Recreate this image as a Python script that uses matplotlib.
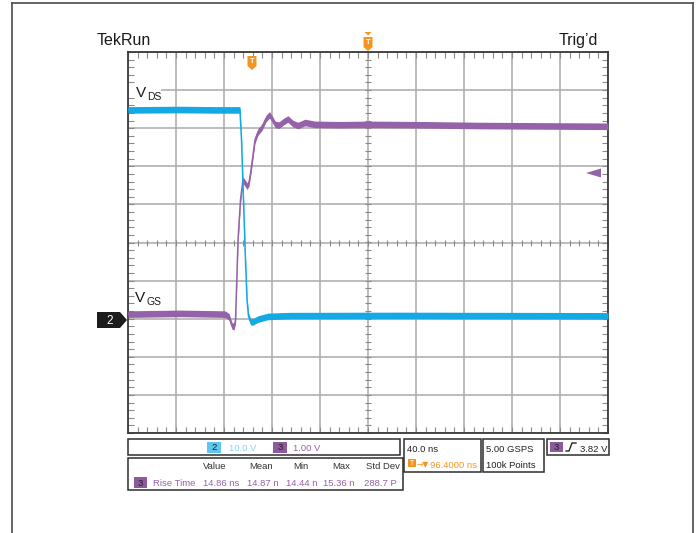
import matplotlib
matplotlib.use("Agg")
import matplotlib.pyplot as plt
import matplotlib.transforms as mtransforms
from matplotlib.patches import Polygon, Rectangle
from matplotlib.lines import Line2D
from matplotlib.ticker import MultipleLocator
import numpy as np

plt.rcParams["font.family"] = ["Liberation Sans", "DejaVu Sans"]

# ---- acquisition settings ----
ns_per_div = 40.0
trigger_delay_ns = 96.4          # centre of screen relative to the trigger
ch2_volts_per_div = 10.0
ch3_volts_per_div = 1.0
ch_offset_div = -2.0             # ground of both channels sits 2 div below centre
trigger_level_v = 3.82

# ---- channel 2: V_DS (time in ns from trigger, volts) ----
t_vds = [-103.6, -60.0, -30.0, -10.3, -9.0, -7.35, -5.7, -4.4, -3.2, -1.5,
         0.6, 4.7, 13.1, 31.4, 120.0, 210.0, 296.4]
v_vds = [54.8, 54.9, 54.8, 54.8, 46.9, 31.2, 15.4, 4.9, 0.7, -0.75,
         -0.85, -0.1, 0.6, 0.8, 0.85, 0.8, 0.75]

# ---- channel 3: V_GS (time in ns from trigger, volts) ----
t_vgs = [-103.6, -60.0, -22.8, -19.4, -16.9, -15.3, -14.0, -13.2, -11.9, -9.85,
         -7.8, -6.1, -4.4, -2.8, -1.1, 0.6, 2.2, 4.7, 8.1, 11.4, 14.3, 16.4,
         19.0, 22.2, 26.4, 29.7, 33.9, 38.1, 43.9, 52.2, 73.1, 96.4, 139.7,
         189.7, 239.7, 296.4]
v_vgs = [0.12, 0.14, 0.12, 0.05, -0.19, -0.21, -0.05, 0.75, 2.07, 3.12,
         3.64, 3.56, 3.48, 3.56, 3.90, 4.30, 4.69, 4.90, 5.03, 5.25, 5.35, 5.25,
         5.10, 5.08, 5.18, 5.24, 5.12, 5.07, 5.15, 5.10, 5.09, 5.10, 5.09,
         5.07, 5.06, 5.05]

# ---- measurement readout ----
meas_headers = ["Value", "Mean", "Min", "Max", "Std Dev"]
meas_values = ["14.86 ns", "14.87 n", "14.44 n", "15.36 n", "288.7 P"]

BLUE = "#12a9e4"
PURPLE = "#9561a8"
ORANGE = "#f7941d"
GRID = "#a9a9a9"
TICK = "#8a8a8a"
FRAME = "#3a3a3a"

W, H = 700, 533
fig = plt.figure(figsize=(W / 100, H / 100), dpi=100)
# pixel coordinates with y pointing down
px = mtransforms.Affine2D().scale(1 / W, -1 / H).translate(0, 1) + fig.transFigure

L, R, T, B = 128, 608, 52, 433
rect = [L / W, 1 - B / H, (R - L) / W, (B - T) / H]

# ---- graticule ----
ax_g = fig.add_axes(rect)
ax_g.set_xlim(-5, 5)
ax_g.set_ylim(-5, 5)
ax_g.set_xticks(np.arange(-5, 6))
ax_g.set_yticks(np.arange(-5, 6))
ax_g.xaxis.set_minor_locator(MultipleLocator(0.2))
ax_g.yaxis.set_minor_locator(MultipleLocator(0.2))
ax_g.grid(True, which="major", color=GRID, lw=1.1)
ax_g.tick_params(which="both", direction="in", length=4, width=0.8, color=TICK,
                 top=True, right=True, labelbottom=False, labelleft=False)
for s in ax_g.spines.values():
    s.set_color(FRAME)
    s.set_linewidth(1.3)
marks = np.arange(-5, 5.001, 0.2)
ax_g.plot(marks, np.zeros_like(marks), ls="none", marker="|", ms=5, mew=0.8, color=TICK)
ax_g.plot(np.zeros_like(marks), marks, ls="none", marker="_", ms=5, mew=0.8, color=TICK)

# ---- traces ----
t0 = trigger_delay_ns - 5 * ns_per_div
t1 = trigger_delay_ns + 5 * ns_per_div
ax_b = fig.add_axes(rect, label="ch2")
ax_b.set_xlim(t0, t1)
ax_b.set_ylim((-5 - ch_offset_div) * ch2_volts_per_div, (5 - ch_offset_div) * ch2_volts_per_div)
ax_b.set_axis_off()
ax_p = ax_b.twinx()
ax_p.set_ylim((-5 - ch_offset_div) * ch3_volts_per_div, (5 - ch_offset_div) * ch3_volts_per_div)
ax_p.set_axis_off()
ax_b.set_zorder(2)
ax_p.set_zorder(1)

half_px = 3.3
px_per_div = (B - T) / 10
tv = np.array(t_vds); vv = np.array(v_vds)
hb = half_px / px_per_div * ch2_volts_per_div
ax_b.fill_between(tv, vv - hb, vv + hb, color=BLUE, lw=0)
ax_b.plot(tv, vv, color=BLUE, lw=1.1)
tg = np.array(t_vgs); vg = np.array(v_vgs)
hp = half_px / px_per_div * ch3_volts_per_div
ax_p.fill_between(tg, vg - hp, vg + hp, color=PURPLE, lw=0)
ax_p.plot(tg, vg, color=PURPLE, lw=1.1)

# ---- outer frame ----
for xs, ys in [([12, 12], [3, 533]), ([12, 693], [3, 3]), ([693, 693], [3, 533])]:
    fig.add_artist(Line2D(xs, ys, transform=px, color="#4a4a4a", lw=1.2))

# ---- header text ----
fig.text(97, 45, "TekRun", transform=px, fontsize=11.5, va="baseline", color="#1a1a1a")
fig.text(598, 45, "Trig\u2019d", transform=px, fontsize=11.5, va="baseline", ha="right", color="#1a1a1a")

# ---- trace labels ----
fig.add_artist(Rectangle((129, 84), 32, 14, transform=px, facecolor="white", edgecolor="none", zorder=1))
fig.text(136, 97, "V", transform=px, fontsize=11, va="baseline", color="#1a1a1a", zorder=2)
fig.text(147.5, 100, "DS", transform=px, fontsize=7.5, va="baseline", color="#1a1a1a", zorder=2)
fig.text(135, 302, "V", transform=px, fontsize=11, va="baseline", color="#1a1a1a", zorder=2)
fig.text(146.5, 305, "GS", transform=px, fontsize=7.5, va="baseline", color="#1a1a1a", zorder=2)

# ---- channel 2 ground marker ----
fig.add_artist(Polygon([(97, 312), (120, 312), (127, 320), (120, 328), (97, 328)],
                       closed=True, transform=px, facecolor="#1c1c1c", edgecolor="none"))
fig.text(110, 320.5, "2", transform=px, fontsize=8.5, color="white", ha="center", va="center")

# ---- trigger level arrow (channel 3) ----
fig.add_artist(Polygon([(586, 173), (601, 168.5), (601, 177.5)], closed=True,
                       transform=px, facecolor=PURPLE, edgecolor="none"))

# ---- trigger / expansion markers ----
def t_marker(x, ytop, with_cap):
    if with_cap:
        fig.add_artist(Polygon([(x - 3.5, ytop - 5), (x + 3.5, ytop - 5), (x, ytop - 1.5)],
                               closed=True, transform=px, facecolor=ORANGE, edgecolor="none"))
    fig.add_artist(Polygon([(x - 4.5, ytop), (x + 4.5, ytop), (x + 4.5, ytop + 10),
                            (x, ytop + 14), (x - 4.5, ytop + 10)], closed=True,
                           transform=px, facecolor=ORANGE, edgecolor="none"))
    fig.text(x, ytop + 5.5, "T", transform=px, fontsize=5.5, color="white",
             ha="center", va="center", fontweight="bold")

t_marker(368, 37, True)
t_marker(252, 56, False)

# ---- readout boxes ----
def box(x0, y0, x1, y1):
    fig.add_artist(Rectangle((x0, y0), x1 - x0, y1 - y0, transform=px,
                             facecolor="white", edgecolor="#2e2e2e", lw=1.1))

def chip(x0, y0, x1, y1, color, label):
    fig.add_artist(Rectangle((x0, y0), x1 - x0, y1 - y0, transform=px,
                             facecolor=color, edgecolor="none"))
    fig.text((x0 + x1) / 2, (y0 + y1) / 2 + 0.5, label, transform=px, fontsize=6.8,
             color="#222222", ha="center", va="center")

FS = 6.8
box(128, 439, 400, 455)
chip(207, 442, 221, 453, "#5fc7ef", "2")
fig.text(229, 451, "10.0 V", transform=px, fontsize=FS, color="#86d3f2", va="baseline")
chip(273, 442, 287, 453, "#8d5a9e", "3")
fig.text(293, 451, "1.00 V", transform=px, fontsize=FS, color=PURPLE, va="baseline")

box(128, 458, 403, 490)
head_x = [203, 249, 293, 332, 366]
val_x = [203, 247, 286, 323, 364]
for x, h in zip(head_x, meas_headers):
    fig.text(x, 469, h, transform=px, fontsize=FS, color="#333333", va="baseline")
chip(134, 477, 147, 488, "#8d5a9e", "3")
fig.text(153, 486, "Rise Time", transform=px, fontsize=FS, color=PURPLE, va="baseline")
for x, v in zip(val_x, meas_values):
    fig.text(x, 486, v, transform=px, fontsize=FS, color=PURPLE, va="baseline")

box(404, 439, 481, 472)
fig.text(407, 452, "40.0 ns", transform=px, fontsize=FS, color="#222222", va="baseline")
fig.add_artist(Rectangle((408, 459), 8, 8, transform=px, facecolor=ORANGE, edgecolor="none"))
fig.text(412, 463.5, "T", transform=px, fontsize=5, color="white", ha="center", va="center")
fig.text(417, 467, "\u2192\u25bc", transform=px, fontsize=5.5, color=ORANGE, va="baseline",
         family=["DejaVu Sans"])
fig.text(430, 467.5, "96.4000 ns", transform=px, fontsize=FS, color=ORANGE, va="baseline")

box(483, 439, 544, 472)
fig.text(486, 452, "5.00 GSPS", transform=px, fontsize=FS, color="#222222", va="baseline")
fig.text(486, 467.5, "100k Points", transform=px, fontsize=FS, color="#222222", va="baseline")

box(547, 439, 609, 455)
chip(550, 442, 563, 452, "#8d5a9e", "3")
fig.add_artist(Line2D([566, 569, 572, 576], [451, 451, 443, 443], transform=px,
                      color="#222222", lw=1.0))
fig.text(580, 451.5, f"{trigger_level_v:.2f} V", transform=px, fontsize=FS,
         color="#222222", va="baseline")

fig.savefig("out.png", dpi=100)
